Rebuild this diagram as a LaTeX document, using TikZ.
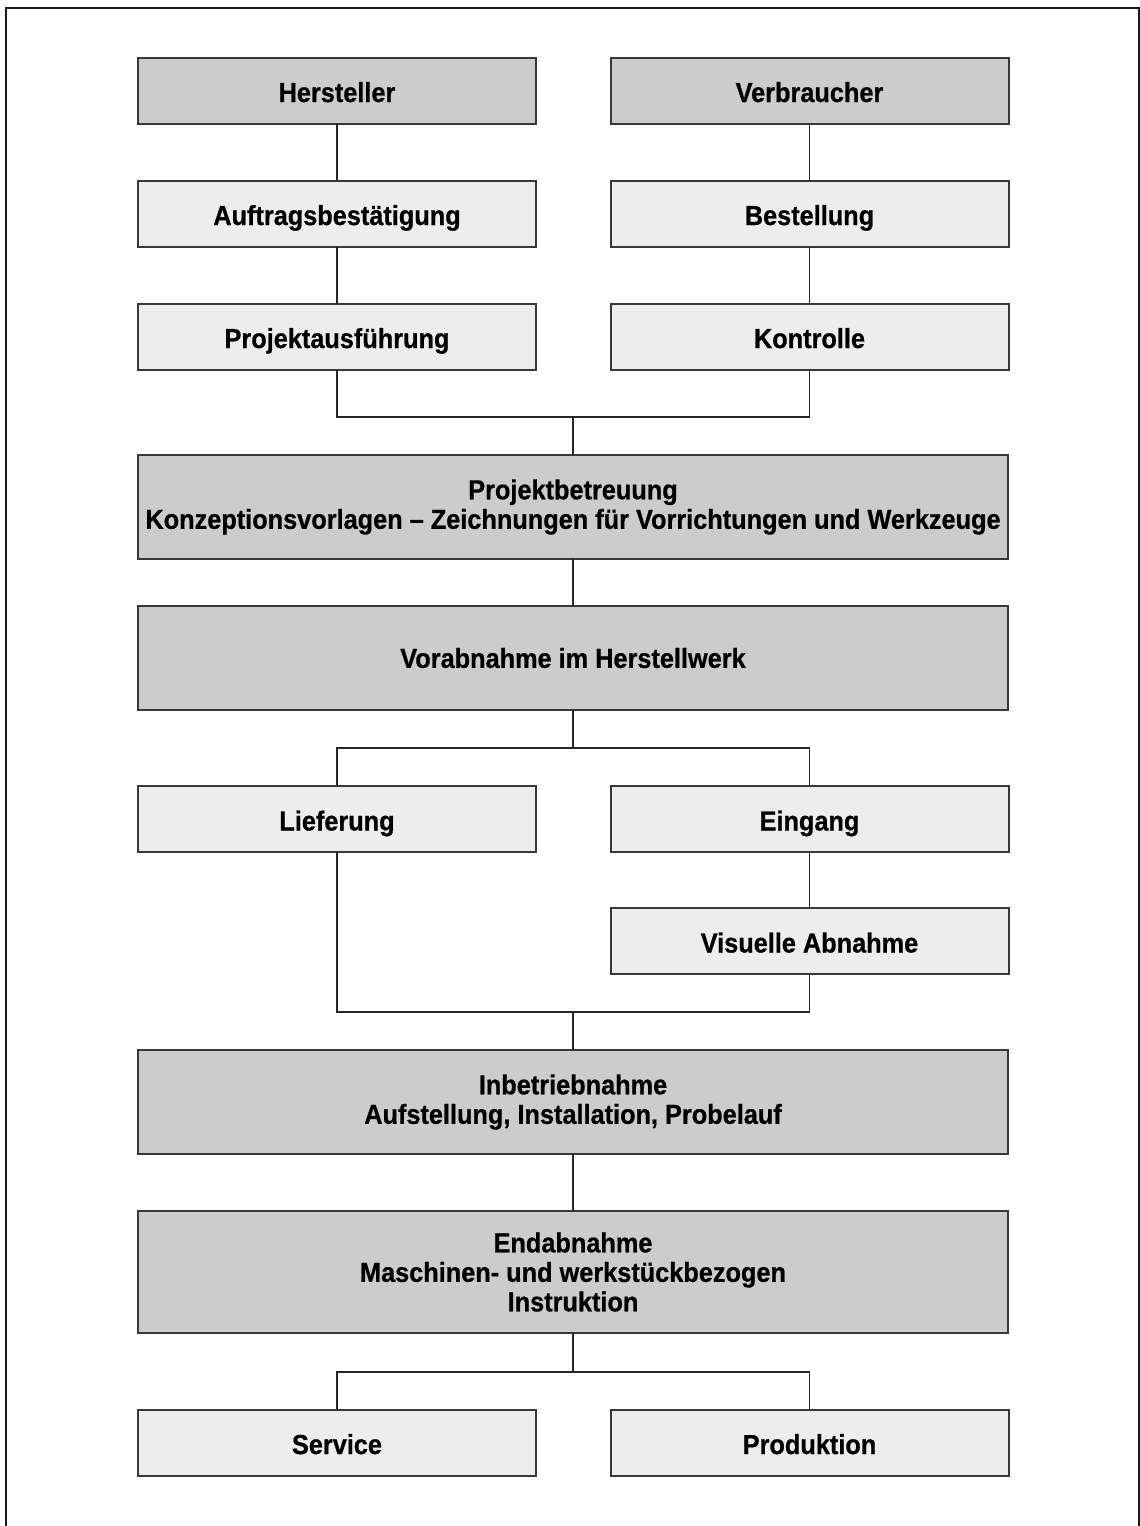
\documentclass[tikz,border=0pt]{standalone}
\usepackage{fontspec}
\newfontfamily\boxfont{Liberation Sans}[FakeStretch=0.92,FakeBold=0.7]
\begin{document}
\begin{tikzpicture}[x=1pt,y=-1pt,
  every node/.style={inner sep=0pt,outer sep=0pt},
  stage/.style={draw=black!78,line width=2pt,align=center,
    font=\boxfont\bfseries\fontsize{27.5}{29.5}\selectfont},
  darkbox/.style={stage,fill=black!20},
  lightbox/.style={stage,fill=black!7},
  narrow/.style={minimum width=398pt,minimum height=66pt,
    text height=23pt,text depth=0pt},
  wide/.style={minimum width=870pt,minimum height=104pt},
  link/.style={draw=black!85,line width=1.5pt},
  frame/.style={draw=black!90,line width=2pt}]
\useasboundingbox (0,0) rectangle (1140,1526);
\fill[white] (0,0) rectangle (1140,1526);

% open frame (no bottom edge)
\draw[frame] (6,1526) -- (6,8) -- (1139,8) -- (1139,1526);

% left and right columns
\node[darkbox,narrow]  (hst) at (337,90.5)   {Hersteller};
\node[darkbox,narrow]  (vbr) at (809.5,90.5) {Verbraucher};
\node[lightbox,narrow] (auf) at (337,213.5)  {Auftragsbestätigung};
\node[lightbox,narrow] (bst) at (809.5,213.5){Bestellung};
\node[lightbox,narrow] (pra) at (337,336.5)  {Projektausführung};
\node[lightbox,narrow] (kon) at (809.5,336.5){Kontrolle};

% full-width stages
\node[darkbox,wide] (pbt) at (573,507) {Projektbetreuung\\Konzeptionsvorlagen – Zeichnungen für Vorrichtungen und Werkzeuge};
\node[darkbox,wide] (vab) at (573,658) {Vorabnahme im Herstellwerk};

\node[lightbox,narrow] (lie) at (337,819)   {Lieferung};
\node[lightbox,narrow] (ein) at (809.5,819) {Eingang};
\node[lightbox,narrow] (vis) at (809.5,941) {Visuelle Abnahme};

\node[darkbox,wide] (inb) at (573,1102) {Inbetriebnahme\\Aufstellung, Installation, Probelauf};
\node[darkbox,wide,minimum height=122pt] (end) at (573,1272) {Endabnahme\\Maschinen- und werkstückbezogen\\Instruktion};

\node[lightbox,narrow] (srv) at (337,1442.5)   {Service};
\node[lightbox,narrow] (prd) at (809.5,1442.5) {Produktion};

% junction points
\coordinate (j1) at (573,417);
\coordinate (j2) at (573,748);
\coordinate (j3) at (573,1012);
\coordinate (j4) at (573,1372);

% connectors
\draw[link] (hst.south) -- (auf.north);
\draw[link] (auf.south) -- (pra.north);
\draw[link] (vbr.south) -- (bst.north);
\draw[link] (bst.south) -- (kon.north);
\draw[link] (pra.south) |- (j1) -| (kon.south);
\draw[link] (j1) -- (pbt.north);
\draw[link] (pbt.south) -- (vab.north);
\draw[link] (vab.south) -- (j2);
\draw[link] (lie.north) |- (j2) -| (ein.north);
\draw[link] (ein.south) -- (vis.north);
\draw[link] (lie.south) |- (j3) -| (vis.south);
\draw[link] (j3) -- (inb.north);
\draw[link] (inb.south) -- (end.north);
\draw[link] (end.south) -- (j4);
\draw[link] (srv.north) |- (j4) -| (prd.north);
\end{tikzpicture}
\end{document}
